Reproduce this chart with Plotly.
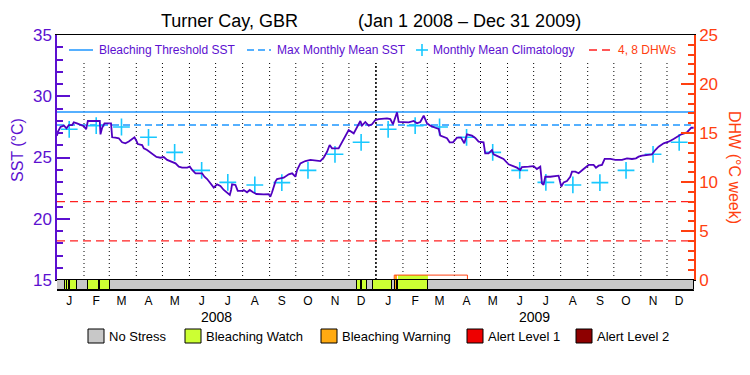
import pandas as pd
import plotly.graph_objects as go

# ---------------- data ----------------
START = pd.Timestamp("2008-01-01")
END = pd.Timestamp("2010-01-01")

# daily SST (day offset from 2008-01-01, degC)
sst_day = [0, 1, 4, 8, 10.9, 13.6, 17.4, 19.3, 23, 26.9, 30.8, 33.4, 35.4, 49.1, 49.9, 51.8,
           54.5, 62, 63.3, 67, 70.9, 74.7, 78.5, 82.4, 86, 88.9, 91.2, 92.7, 97.7, 99.6, 103.4,
           107.2, 111, 114.1, 118.7, 122.5, 126.4, 131, 136, 139.8, 143.6, 149.4, 152.4, 155.1,
           158.9, 166.5, 169.2, 172.3, 176.1, 179.9, 183.7, 187.5, 191.4, 195.2, 198.3, 199.8,
           200.9, 204.8, 207.4, 212.4, 214.3, 218.1, 221.2, 225, 228.8, 237.2, 243, 244.8, 246.8,
           250.6, 252.5, 256.3, 260.2, 265.9, 269.8, 273.6, 275.5, 279.3, 285, 290.8, 302.2, 306,
           309.9, 312.9, 315.6, 323.2, 327.1, 330.9, 334.7, 340.5, 344.3, 348.1, 350, 353.8, 357.7,
           361.5, 365.3, 369.2, 378.7, 382.5, 385.6, 388.3, 390.2, 392.1, 397.8, 403.5, 409.3,
           413.1, 416.9, 420.8, 424.6, 428.4, 434.1, 438, 439.9, 443.7, 447.5, 450.6, 454.4, 459,
           463.6, 467.4, 470.5, 476.2, 480, 483.8, 489.5, 491.4, 495.2, 499.1, 501, 506.7, 512.4,
           518.2, 522, 527.8, 531.6, 533.5, 541.2, 546.9, 550.7, 554.6, 556.5, 558.4, 560.3, 566.1,
           575.6, 578.7, 581.4, 585.2, 589, 591, 594.8, 598.6, 604.3, 610.1, 615.8, 618.5, 621.6,
           625.4, 628.5, 635, 640.7, 648.4, 654.1, 659.8, 664.4, 667.5, 671.3, 678.9, 682.8, 686.6,
           690.4, 696.2, 701.9, 707.6, 711.5, 716.4, 722.9, 727.9, 730.6]
sst_value = [26.78, 27.10, 27.50, 27.60, 27.38, 27.65, 27.65, 27.87, 27.79, 27.65, 27.55, 27.30,
             27.98, 27.98, 26.89, 27.43, 27.79, 27.79, 26.65, 26.62, 26.57, 26.24, 26.16, 26.30,
             26.51, 26.65, 26.35, 26.10, 26.02, 25.75, 25.61, 25.42, 25.20, 25.04, 24.98, 25.04,
             24.80, 24.66, 24.52, 24.25, 24.17, 24.17, 24.25, 23.98, 23.71, 23.71, 23.43, 23.24,
             22.89, 22.54, 22.81, 22.68, 22.35, 22.16, 21.94, 22.35, 22.81, 22.76, 22.27, 22.27,
             22.35, 22.16, 22.35, 22.16, 22.02, 21.99, 22.00, 21.80, 22.16, 23.03, 23.24, 23.30,
             23.35, 23.63, 23.71, 23.43, 23.98, 24.52, 24.71, 24.80, 24.71, 24.98, 25.47, 26.02,
             25.75, 25.75, 26.29, 26.84, 27.24, 26.97, 27.43, 27.98, 27.60, 27.90, 27.60, 27.71,
             28.06, 28.14, 28.20, 28.14, 27.71, 28.20, 28.69, 27.90, 27.90, 27.87, 27.98, 27.79,
             27.90, 28.41, 27.79, 27.60, 27.43, 27.33, 26.78, 26.70, 26.57, 26.24, 26.24, 26.62,
             26.62, 26.16, 26.89, 26.78, 26.60, 26.29, 26.24, 25.34, 25.34, 25.61, 25.26, 25.07,
             24.88, 24.44, 24.33, 24.17, 23.98, 24.22, 24.25, 24.30, 24.06, 24.25, 22.89, 22.76,
             23.43, 23.43, 23.52, 22.62, 22.97, 23.08, 23.43, 23.84, 23.84, 23.71, 24.06, 24.39,
             24.39, 24.17, 24.33, 24.39, 24.88, 24.88, 24.80, 24.80, 24.93, 24.88, 24.93, 25.07,
             25.15, 25.20, 25.26, 25.61, 25.88, 26.16, 26.29, 26.51, 26.70, 26.89, 27.05, 27.43,
             27.43]

# monthly mean climatology (Jan..Dec)
clim_value = [27.30, 27.60, 27.49, 26.65, 25.42, 23.95, 22.97, 22.76, 22.95, 23.95, 25.26, 26.24]
month_letters = ["J", "F", "M", "A", "M", "J", "J", "A", "S", "O", "N", "D"]
years = ["2008", "2009"]

mmm_sst = 27.66
threshold_sst = 28.72
dhw_thresholds = [4, 8]

# degree heating weeks (step series, day offsets)
dhw_day = [0, 387, 471, 731]
dhw_value = [0, 0.5, 0, 0]

# stress-level periods (day offsets, end exclusive) and level index
stress_start = [9, 12, 15, 35, 49, 344, 350, 363, 388, 391]
stress_end = [11, 14, 23, 48, 61, 349, 356, 384, 390, 426]
stress_level = [1, 1, 1, 1, 1, 1, 1, 1, 2, 1]

level_names = ["No Stress", "Bleaching Watch", "Bleaching Warning", "Alert Level 1", "Alert Level 2"]
level_colors = ["#c8c8c8", "#ccff33", "#ffaa11", "#ee0000", "#8e0000"]

# ---------------- styling ----------------
PURPLE = "#5c10d0"
LINE_PURPLE = "#5000c0"
ORANGE = "#ff4010"
BLUE = "#1e96ff"
CYAN = "#18c8ff"
RED = "#ff2020"
FONT = "Liberation Sans, Arial, sans-serif"

W, H = 750, 375
L, R, T, B = 57, 56, 35, 85
PW, PH = W - L - R, H - T - B
BAR = 10 / PH


def px(xp):
    return (xp - L) / PW


def py(yp):
    return (H - B - yp) / PH


def to_date(d):
    return START + pd.to_timedelta(d, unit="D")


MS_DAY = 86400000.0

fig = go.Figure()

# stress bar: background (no stress) + coloured periods
total_days = (END - START).days
fig.add_trace(go.Bar(x=[to_date(total_days / 2)], y=[1], base=0, width=[total_days * MS_DAY],
                     marker=dict(color=level_colors[0], line=dict(color="black", width=1)),
                     xaxis="x", yaxis="y3", showlegend=False, hoverinfo="skip"))
for lev in range(1, 5):
    segs = [(s, e) for s, e, lv in zip(stress_start, stress_end, stress_level) if lv == lev]
    if not segs:
        continue
    fig.add_trace(go.Bar(x=[to_date((s + e) / 2) for s, e in segs], y=[1] * len(segs), base=0,
                         width=[(e - s) * MS_DAY for s, e in segs],
                         marker=dict(color=level_colors[lev], line=dict(color="black", width=1)),
                         xaxis="x", yaxis="y3", showlegend=False, hoverinfo="skip"))


def dhw_at(d):
    v = dhw_value[0]
    for dd, vv in zip(dhw_day, dhw_value):
        if d >= dd:
            v = vv
    return v


# DHW fill coloured by stress level
for lev in range(1, 5):
    xs, ws, ys = [], [], []
    for s, e, lv in zip(stress_start, stress_end, stress_level):
        if lv != lev:
            continue
        val = dhw_at(s)
        if val > 0:
            xs.append(to_date((s + e) / 2))
            ws.append((e - s) * MS_DAY)
            ys.append(val)
    if xs:
        fig.add_trace(go.Bar(x=xs, y=ys, base=0, width=ws,
                             marker=dict(color=level_colors[lev], line=dict(width=0)),
                             xaxis="x", yaxis="y2", showlegend=False, hoverinfo="skip"))

# DHW thresholds (4, 8)
dx, dy = [], []
for v in dhw_thresholds:
    dx += [START, END, None]
    dy += [v, v, None]
fig.add_trace(go.Scatter(x=dx, y=dy, mode="lines", yaxis="y2",
                         line=dict(color=RED, width=1.3, dash="8px,5px"), showlegend=False))

# DHW line
fig.add_trace(go.Scatter(x=[to_date(d) for d in dhw_day], y=dhw_value, mode="lines", yaxis="y2",
                         line=dict(color=ORANGE, width=1, shape="hv"), showlegend=False))

# bleaching threshold and MMM
fig.add_trace(go.Scatter(x=[START, END], y=[threshold_sst] * 2, mode="lines",
                         line=dict(color=BLUE, width=1.5), showlegend=False))
fig.add_trace(go.Scatter(x=[START, END], y=[mmm_sst] * 2, mode="lines",
                         line=dict(color=BLUE, width=1.5, dash="7px,4px"), showlegend=False))

# climatology crosses (mid month)
months = pd.date_range(START, END - pd.Timedelta(days=1), freq="MS")
mid = [m + pd.Timedelta(days=14) for m in months]
fig.add_trace(go.Scatter(x=mid, y=[clim_value[m.month - 1] for m in months], mode="markers",
                         marker=dict(symbol="cross-thin", size=12, line=dict(color=CYAN, width=1.6)),
                         showlegend=False))

# SST
fig.add_trace(go.Scatter(x=[to_date(d) for d in sst_day], y=sst_value, mode="lines",
                         line=dict(color=LINE_PURPLE, width=1.8), showlegend=False))

shapes = []
annotations = []

# monthly dotted separators
for m in months[1:]:
    yearline = m.month == 1
    shapes.append(dict(type="line", xref="x", yref="y domain", x0=m, x1=m, y0=0, y1=0.886,
                       line=dict(color="black", width=1.6 if yearline else 1,
                                 dash="2px,2px" if yearline else "1px,3px"), layer="below"))

# year labels
for yr in years:
    annotations.append(dict(x=pd.Timestamp(f"{yr}-07-02"), xref="x", y=py(317), yref="paper",
                            text=yr, showarrow=False, xanchor="center", yanchor="middle",
                            font=dict(size=14, color="black", family=FONT)))

# top legend
ly = py(50)
shapes.append(dict(type="line", xref="paper", yref="paper", x0=px(69), x1=px(93), y0=ly, y1=ly,
                   line=dict(color=BLUE, width=1.5)))
shapes.append(dict(type="line", xref="paper", yref="paper", x0=px(247), x1=px(271), y0=ly, y1=ly,
                   line=dict(color=BLUE, width=1.5, dash="7px,4px")))
shapes.append(dict(type="line", xref="paper", yref="paper", x0=px(589), x1=px(611), y0=ly, y1=ly,
                   line=dict(color=RED, width=1.3, dash="8px,5px")))
shapes.append(dict(type="line", xref="paper", yref="paper", x0=px(416), x1=px(428), y0=ly, y1=ly,
                   line=dict(color=CYAN, width=1.6)))
shapes.append(dict(type="line", xref="paper", yref="paper", x0=px(422), x1=px(422), y0=py(44), y1=py(56),
                   line=dict(color=CYAN, width=1.6)))
for xt, txt, col in [(97, "Bleaching Threshold SST", PURPLE), (275, "Max Monthly Mean SST", PURPLE),
                     (431, "Monthly Mean Climatology", PURPLE), (616, "4, 8 DHWs", ORANGE)]:
    annotations.append(dict(x=px(xt), y=ly, xref="paper", yref="paper", text=txt, showarrow=False,
                            xanchor="left", yanchor="middle", font=dict(size=12, color=col, family=FONT)))

# bottom legend (stress levels)
box_left = [88, 185, 321, 467, 576]
for xl, name, col in zip(box_left, level_names, level_colors):
    shapes.append(dict(type="rect", xref="paper", yref="paper", x0=px(xl), x1=px(xl + 16),
                       y0=py(343), y1=py(329), fillcolor=col, line=dict(color="black", width=1)))
    annotations.append(dict(x=px(xl + 19), y=py(336), xref="paper", yref="paper", text=name,
                            showarrow=False, xanchor="left", yanchor="middle",
                            font=dict(size=13, color="black", family=FONT)))

# title (two parts)
annotations.append(dict(x=px(229), y=py(21), xref="paper", yref="paper", text="Turner Cay, GBR",
                        showarrow=False, xanchor="center", yanchor="middle",
                        font=dict(size=18, color="black", family=FONT)))
annotations.append(dict(x=px(469), y=py(21), xref="paper", yref="paper",
                        text="(Jan 1 2008 \u2013 Dec 31 2009)", showarrow=False,
                        xanchor="center", yanchor="middle", font=dict(size=18, color="black", family=FONT)))

# axis titles
annotations.append(dict(x=px(17), y=py(150), xref="paper", yref="paper", text="SST (°C)",
                        textangle=-90, showarrow=False, xanchor="center", yanchor="middle",
                        font=dict(size=16, color=PURPLE, family=FONT)))
annotations.append(dict(x=px(734), y=py(167), xref="paper", yref="paper", text="DHW (°C week)",
                        textangle=90, showarrow=False, xanchor="center", yanchor="middle",
                        font=dict(size=16, color=ORANGE, family=FONT)))

fig.update_layout(
    width=W, height=H,
    margin=dict(l=L, r=R, t=T, b=B, autoexpand=False),
    paper_bgcolor="white", plot_bgcolor="white",
    barmode="overlay", bargap=0,
    showlegend=False,
    font=dict(family=FONT),
    xaxis=dict(type="date", range=[START, END], anchor="y3", domain=[0, 1], automargin=False,
               tickmode="array", tickvals=mid, ticktext=[month_letters[m.month - 1] for m in months],
               ticks="", showgrid=False, zeroline=False,
               showline=True, mirror="all", linecolor="black", linewidth=1,
               tickfont=dict(size=12, color="black", family=FONT)),
    yaxis=dict(domain=[BAR, 1], range=[15, 35], anchor="x", side="left", automargin=False,
               showline=True, linecolor=PURPLE, linewidth=1.5,
               tickmode="array", tickvals=[15, 20, 25, 30, 35], ticks="inside", ticklen=13,
               tickcolor=PURPLE, tickwidth=1.5,
               minor=dict(ticks="inside", ticklen=6, tickcolor=PURPLE, tickwidth=1.5, dtick=1, tick0=15,
                          showgrid=False),
               showgrid=False, zeroline=False,
               tickfont=dict(size=17, color=PURPLE, family=FONT)),
    yaxis2=dict(overlaying="y", side="right", range=[0, 25], anchor="x", automargin=False,
                showline=True, linecolor=ORANGE, linewidth=1.5,
                tickmode="array", tickvals=[0, 5, 10, 15, 20, 25], ticks="inside", ticklen=13,
                tickcolor=ORANGE, tickwidth=1.5,
                minor=dict(ticks="inside", ticklen=6, tickcolor=ORANGE, tickwidth=1.5, dtick=1, tick0=0,
                           showgrid=False),
                showgrid=False, zeroline=False,
                tickfont=dict(size=17, color=ORANGE, family=FONT)),
    yaxis3=dict(domain=[0, BAR], range=[0, 1], anchor="x", visible=False, fixedrange=True,
                automargin=False),
    shapes=shapes,
    annotations=annotations,
)

fig.write_html("out.html", post_script="document.body.style.margin='0';",
               config={"displayModeBar": False})
